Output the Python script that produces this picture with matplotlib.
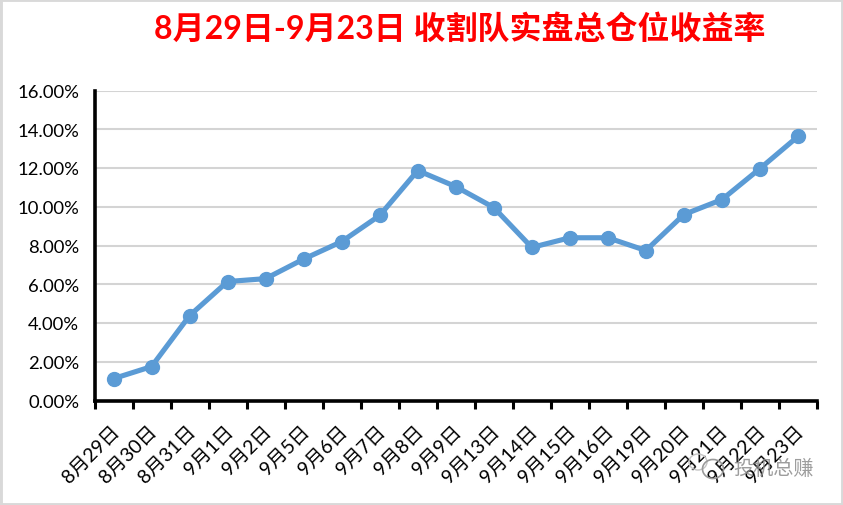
# 收益率 line chart
import matplotlib
matplotlib.use('Agg')
import matplotlib.pyplot as plt
from matplotlib.patches import Ellipse, Rectangle

plt.rcParams['font.family'] = ['Lato', 'Noto Sans CJK SC', 'DejaVu Sans']

dates = ['8月29日', '8月30日', '8月31日', '9月1日', '9月2日', '9月5日', '9月6日', '9月7日', '9月8日', '9月9日',
         '9月13日', '9月14日', '9月15日', '9月16日', '9月19日', '9月20日', '9月21日', '9月22日', '9月23日']
returns = [1.13, 1.75, 4.38, 6.14, 6.29, 7.30, 8.20, 9.55, 11.87, 11.04,
           9.96, 7.90, 8.40, 8.40, 7.74, 9.60, 10.37, 11.97, 13.63]
y_ticks = [0, 2, 4, 6, 8, 10, 12, 14, 16]
title = '8月29日-9月23日 收割队实盘总仓位收益率'
mark = '投机总赚'

W, H = 843, 506
fig = plt.figure(figsize=(W / 100, H / 100), dpi=100)
ax = fig.add_axes([94.5 / W, 1 - 401.5 / H, (817 - 94.5) / W, 310 / H])

x = list(range(len(dates)))
ax.plot(x, returns, color='#5B9BD5', lw=3.7, marker='o', ms=10, solid_joinstyle='round', clip_on=False, zorder=3)

ax.set_xlim(-0.5, len(dates) - 0.5)
ax.set_ylim(0, 16)

# gridlines
ax.set_yticks(y_ticks)
ax.set_yticklabels(['%.2f%%' % v for v in y_ticks], fontsize=13.3, color='black', va='center_baseline')
ax.grid(True, axis='y', color='#D4D4D4', lw=1.5)
ax.set_axisbelow(True)

# ticks sit between the categories
ax.set_xticks([i - 0.5 for i in range(len(dates) + 1)])
ax.set_xticklabels([])
ax.tick_params(axis='x', length=5.5, width=2.2, color='black')
ax.tick_params(axis='y', length=0, pad=11)

for s in ['top', 'right']:
    ax.spines[s].set_visible(False)
for s in ['left', 'bottom']:
    ax.spines[s].set_linewidth(2.6)
    ax.spines[s].set_color('black')

# rotated date labels
for i, d in enumerate(dates):
    ax.annotate(d, xy=(i, 0), xycoords=('data', 'axes fraction'), xytext=(3, -27), textcoords='offset pixels',
                rotation=45, rotation_mode='anchor', ha='right', va='center', fontsize=14, color='black')

fig.text(460 / W, 1 - 28 / H, title, color='#FF0000', fontsize=23, fontweight='bold', ha='center', va='center')

# watermark
fig.add_artist(Ellipse((698 / W, 1 - 463 / H), 18 / W, 16 / H, fc='none', ec='#C4C4C4', lw=1, transform=fig.transFigure))
fig.add_artist(Ellipse((713 / W, 1 - 470 / H), 21 / W, 19 / H, fc='none', ec='#9A9A9A', lw=1.2, transform=fig.transFigure))
fig.text(774 / W, 1 - 468 / H, mark, color='#8C8C8C', fontsize=14.5, ha='center', va='center', alpha=0.85)

# image frame
fig.add_artist(Rectangle((0, 0), 1, 1, fc='none', ec='#D9D9D9', lw=3.5, transform=fig.transFigure))

fig.savefig('out.png', dpi=100)
